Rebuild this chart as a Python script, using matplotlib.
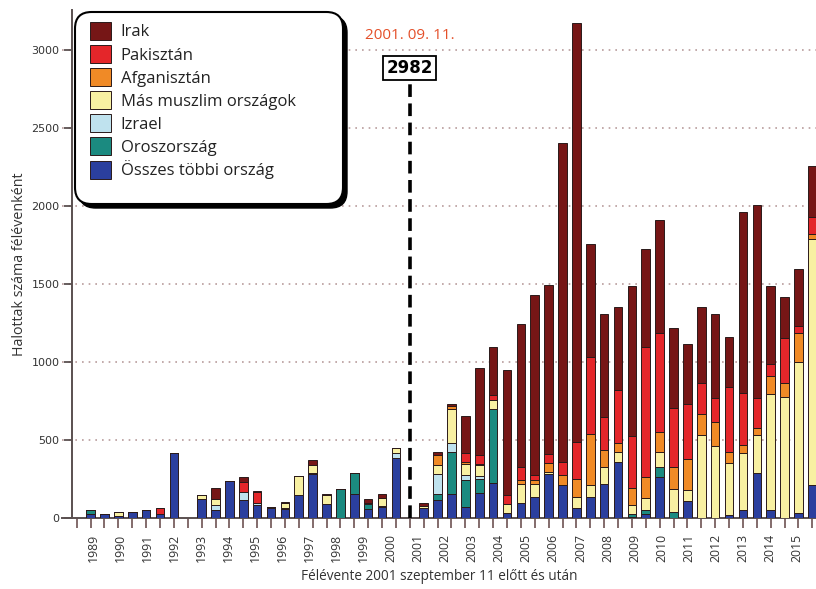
import matplotlib
matplotlib.use("Agg")
import matplotlib.pyplot as plt
from matplotlib.patches import Patch, FancyBboxPatch
import numpy as np

plt.rcParams['font.family'] = ['Open Sans', 'DejaVu Sans']

years = list(range(1989, 2016))
series_names = ["Összes többi ország", "Oroszország", "Izrael", "Más muszlim országok",
                "Afganisztán", "Pakisztán", "Irak"]
colors = ["#2b3f9e", "#1b8a80", "#bfe2ee", "#f8f0a2", "#f08a26", "#e4262a", "#761616"]

osszes = [0, 25, 25, 8, 38, 45, 20, 415, 0, 120, 45, 233, 110, 80, 60, 55, 147, 282, 85, 0,
          154, 55, 65, 385, 0, 58, 115, 154, 68, 158, 224, 32, 96, 132, 278, 211, 58, 132,
          214, 353, 5, 21, 263, 0, 103, 0, 0, 17, 49, 284, 49, 0, 32, 209]
orosz = [0, 20, 0, 0, 0, 0, 0, 0, 0, 0, 0, 0, 0, 0, 0, 5, 0, 5, 0, 186,
         134, 30, 8, 0, 0, 0, 38, 267, 175, 92, 474, 0, 0, 0, 0, 0, 0, 0,
         0, 0, 15, 24, 64, 38, 0, 0, 0, 0, 0, 0, 0, 0, 0, 0]
izrael = [0, 0, 0, 0, 0, 0, 0, 0, 0, 0, 35, 0, 53, 15, 8, 0, 0, 0, 0, 0,
          0, 0, 0, 30, 0, 0, 128, 58, 28, 15, 0, 0, 0, 0, 0, 0, 0, 0,
          0, 0, 0, 0, 0, 0, 0, 0, 0, 0, 0, 0, 0, 0, 0, 0]
mas_muszlim = [0, 0, 0, 30, 0, 0, 0, 0, 0, 25, 40, 0, 0, 0, 0, 30, 120, 49, 58, 0,
               0, 10, 55, 28, 0, 17, 53, 220, 75, 70, 53, 53, 122, 81, 15, 0, 75, 75,
               111, 70, 58, 79, 96, 143, 71, 530, 459, 331, 363, 246, 741, 776, 968, 1581]
afgan = [0, 0, 0, 0, 0, 0, 0, 0, 0, 0, 0, 0, 0, 0, 0, 0, 0, 0, 0, 0,
         0, 0, 0, 0, 0, 0, 70, 15, 10, 10, 0, 0, 21, 26, 58, 64, 111, 331,
         107, 58, 109, 139, 128, 141, 201, 132, 156, 75, 53, 43, 118, 85, 186, 32]
pakisztan = [0, 0, 0, 0, 0, 0, 42, 0, 0, 0, 0, 0, 64, 68, 0, 0, 0, 0, 0, 0,
             0, 0, 0, 0, 0, 0, 0, 0, 58, 53, 36, 58, 85, 32, 56, 79, 241, 495,
             210, 338, 335, 833, 635, 378, 355, 199, 154, 412, 331, 192, 75, 288, 43, 107]
irak = [0, 0, 0, 0, 0, 0, 0, 0, 0, 0, 70, 0, 32, 10, 0, 12, 0, 32, 5, 0,
        0, 25, 20, 0, 0, 15, 15, 13, 237, 562, 307, 806, 919, 1154, 1083, 2050, 2686, 723,
        666, 532, 965, 626, 722, 513, 383, 487, 536, 325, 1165, 1239, 504, 267, 365, 327]

series = [osszes, orosz, izrael, mas_muszlim, afgan, pakisztan, irak]
n = len(osszes)
x = np.arange(n)

W, H = 816, 589
fig = plt.figure(figsize=(W / 100, H / 100), dpi=100)
ax_l, ax_r, ax_t, ax_b = 61.7, 816, 10, 517.5
ax = fig.add_axes([ax_l / W, (H - ax_b) / H, (ax_r - ax_l) / W, (ax_b - ax_t) / H])

px_per_bar = 13.88
xmin = (ax_l - 76.7) / px_per_bar
xmax = (ax_r - 76.7) / px_per_bar
ax.set_xlim(xmin, xmax)
ymax = (ax_b - ax_t) / (467.5 / 3000)
ax.set_ylim(0, ymax)

bottom = np.zeros(n)
for name, vals, c in zip(series_names, series, colors):
    v = np.array(vals, dtype=float)
    ax.bar(x, v, width=0.62, bottom=bottom, color=c, edgecolor="#2a1a1a",
           linewidth=0.7, zorder=3, label=name)
    bottom += v

for yv in range(500, 3001, 500):
    ax.axhline(yv, color="#b89c9c", linestyle=(0, (1, 3)), linewidth=1.2, zorder=1)

for s in ["top", "right"]:
    ax.spines[s].set_visible(False)
ax.spines["left"].set_position(("data", (72 - 76.7) / px_per_bar))
ax.spines["left"].set_color("#5a5050")
ax.spines["left"].set_linewidth(1.4)
ax.spines["bottom"].set_color("#5a5050")
ax.spines["bottom"].set_linewidth(1.4)

ax.set_yticks(range(0, 3001, 500))
ax.set_yticklabels([str(v) for v in range(0, 3001, 500)], fontsize=8,
                   color="#333333", family="DejaVu Sans")
ax.tick_params(axis="y", length=6, width=1.3, color="#5a5050", pad=3)

ax.set_xticks(x)
ax.set_xticklabels([])
ax.tick_params(axis="x", which="major", length=7, width=1.3, color="#7a6060", direction="out")
label_pos = [1.17 + 1.951 * (yy - 1989) for yy in years]
ax.set_xticks(label_pos, minor=True)
ax.set_xticklabels([str(yy) for yy in years], minor=True, rotation=90, fontsize=8.8,
                   color="#333333")
ax.tick_params(axis="x", which="minor", length=0, pad=12)

ax.set_xlabel("Félévente 2001 szeptember 11 előtt és után", fontsize=9.8,
              color="#333333", labelpad=5)
ax.set_ylabel("Halottak száma félévenként", fontsize=10.3, color="#333333", labelpad=3)

ax.plot([24, 24], [0, 2795], color="black", linewidth=2.6, linestyle=(0, (3.5, 1.8)),
        zorder=4)
ax.text(24, 2885, "2982", ha="center", va="center", fontsize=12, fontweight="bold",
        family="DejaVu Sans",
        bbox=dict(boxstyle="square,pad=0.2", facecolor="white", edgecolor="black",
                  linewidth=1.3), zorder=6)
ax.text(24, 3096, "2001. 09. 11.", ha="center", va="center", fontsize=11,
        color="#e4502a", zorder=6)

aw = ax_r - ax_l
ah = ax_b - ax_t
bx0, bx1, by0, by1 = 75, 343, 12, 204
asp = aw / ah
sh = FancyBboxPatch(((bx0 + 4 - ax_l) / aw, (ax_b - by1 - 4) / ah),
                    (bx1 - bx0) / aw, (by1 - by0) / ah,
                    boxstyle="round,pad=0,rounding_size=0.022", mutation_aspect=asp,
                    transform=ax.transAxes, facecolor="black", edgecolor="black",
                    zorder=7, clip_on=False)
ax.add_patch(sh)
bx = FancyBboxPatch(((bx0 - ax_l) / aw, (ax_b - by1) / ah),
                    (bx1 - bx0) / aw, (by1 - by0) / ah,
                    boxstyle="round,pad=0,rounding_size=0.022", mutation_aspect=asp,
                    transform=ax.transAxes, facecolor="white", edgecolor="black",
                    linewidth=1.5, zorder=8, clip_on=False)
ax.add_patch(bx)

handles = [Patch(facecolor=c, edgecolor="#2a1a1a", linewidth=0.7, label=nm)
           for nm, c in zip(series_names, colors)][::-1]
leg = ax.legend(handles=handles, loc="upper left",
                bbox_to_anchor=((90 - ax_l) / aw, (ax_b - 22) / ah),
                frameon=False, fontsize=12, handlelength=1.25, handleheight=1.25,
                handletextpad=0.6, labelspacing=0.28, borderpad=0, borderaxespad=0)
leg.set_zorder(9)
for t in leg.get_texts():
    t.set_color("#222222")

fig.savefig("out.png", dpi=100)
